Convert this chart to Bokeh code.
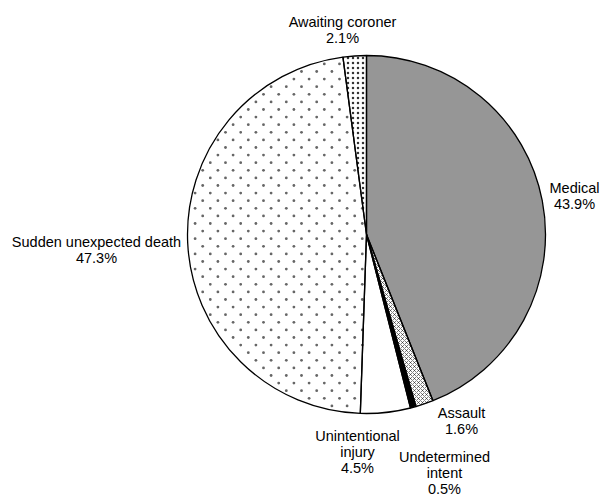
import math
from bokeh.plotting import figure
from bokeh.models import Range1d, ColumnDataSource
from bokeh.core.properties import value
from bokeh.embed import file_html
from bokeh.resources import INLINE

# ---- data ----
categories = ["Medical", "Assault", "Undetermined\nintent", "Unintentional\ninjury",
              "Sudden unexpected death", "Awaiting coroner"]
percents = [43.9, 1.6, 0.5, 4.5, 47.3, 2.1]

# ---- styles ----
fills = ["#969696", "#ffffff", "#000000", "#ffffff", "#ffffff", "#ffffff"]
hatches = [" ", "diagonal_cross", " ", " ", " ", "dot"]
hatch_colors = ["#000000", "#000000", "#000000", "#000000", "#8a8a8a", "#333333"]
hatch_scales = [6, 4, 6, 6, 9, 5]
sparse_dot_slice = 4  # slice drawn with a sparse staggered dot texture

# label anchors in screen pixels (layout)
label_pos = [(574, 195), (461, 420), (444, 472), (357, 451), (96, 249), (342, 29)]

W, H = 600, 496
p = figure(width=W, height=H, x_range=Range1d(0, W), y_range=Range1d(0, H),
           output_backend="svg", toolbar_location=None, min_border=0)
p.axis.visible = False
p.grid.visible = False
p.outline_line_color = None
p.background_fill_color = "white"

cx, cy, r = 366, 496 - 234, 179
total = sum(percents)
starts, ends = [], []
cum = 0.0
for v in percents:
    starts.append(math.pi / 2 - cum / total * 2 * math.pi)
    cum += v
    ends.append(math.pi / 2 - cum / total * 2 * math.pi)

src = ColumnDataSource(dict(x=[cx] * len(percents), y=[cy] * len(percents),
                            start=starts, end=ends, fill=fills, hatch=hatches,
                            hcol=hatch_colors, hscale=hatch_scales))
p.wedge(x="x", y="y", radius=r, start_angle="start", end_angle="end", direction="clock",
        fill_color="fill", line_color=None,
        hatch_pattern="hatch", hatch_color="hcol", hatch_scale="hscale", hatch_weight=0.5,
        source=src)

# sparse staggered dot texture for the "Sudden unexpected death" slice
s0, s1 = starts[sparse_dot_slice], ends[sparse_dot_slice]
span = s0 - s1
step = 7.6
dx, dy = [], []
j = 0
yy = cy - r
while yy <= cy + r:
    off = (step if j % 2 else 0.0)
    xx = cx - r - 2 * step + off
    while xx <= cx + r:
        ddx, ddy = xx - cx, yy - cy
        rr = math.hypot(ddx, ddy)
        if 4 < rr < r - 2.5:
            th = math.atan2(ddy, ddx)
            if ((s0 - th) % (2 * math.pi)) < span - 0.02:
                dx.append(xx)
                dy.append(yy)
        xx += 2 * step
    yy += step
    j += 1
p.scatter(dx, dy, size=2.8, marker="circle", fill_color="#666666", line_color=None)

# outlines on top
p.wedge(x="x", y="y", radius=r, start_angle="start", end_angle="end", direction="clock",
        fill_color=None, line_color="black", line_width=1.3, source=src)

texts = [c + "\n" + f"{v:.1f}%" for c, v in zip(categories, percents)]
lsrc = ColumnDataSource(dict(x=[q[0] for q in label_pos], y=[496 - q[1] for q in label_pos], t=texts))
p.text(x="x", y="y", text="t", source=lsrc, text_align="center", text_baseline="middle",
       text_font=value("Liberation Sans"), text_font_size="14.5px", text_color="black",
       text_line_height=1.0)

open("out.html", "w").write(file_html(p, INLINE))
